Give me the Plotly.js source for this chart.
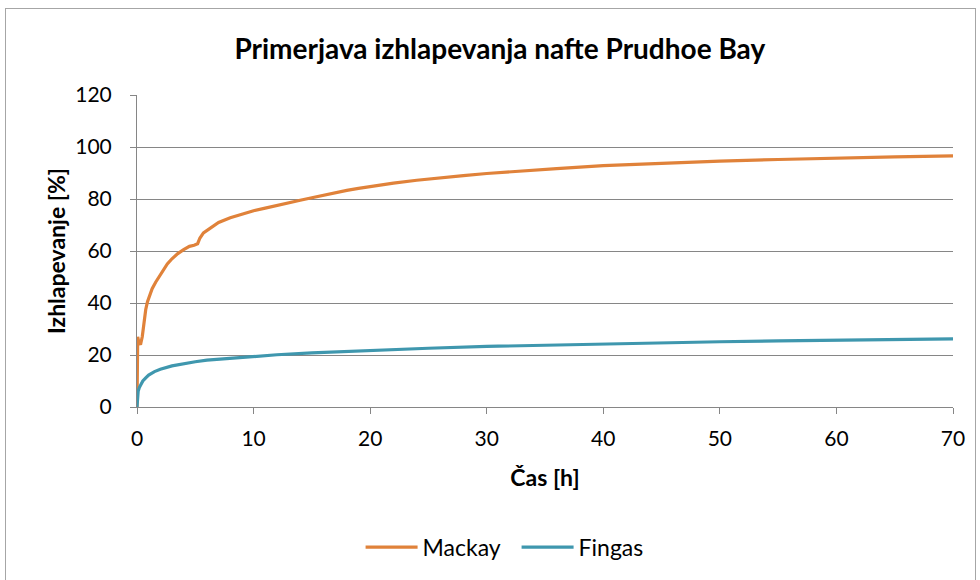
<!DOCTYPE html>
<html>
<head>
<meta charset="utf-8">
<script src="https://cdn.plot.ly/plotly-3.0.1.min.js"></script>
<style>
  html, body { margin: 0; padding: 0; background: #fff; }
  #frame { position: absolute; left: 5px; top: 8px; width: 969px; height: 600px; border: 1px solid #a6a6a6; }
  #chart { position: absolute; left: 0; top: 0; width: 980px; height: 580px; }
</style>
</head>
<body>
<div id="frame"></div>
<div id="chart"></div>
<script>
// Time in hours
const mackayT = [0, 0.03, 0.06, 0.15, 0.3, 0.45, 0.6, 0.75, 0.9, 1.1, 1.3, 1.6, 1.9, 2.2, 2.6, 3.0, 3.5, 4.0, 4.5, 4.9, 5.2, 5.4, 5.7, 6.2, 7, 8, 9, 10, 11, 12, 13, 14, 15, 16, 17, 18, 19, 20, 22, 24, 26, 28, 30, 33, 36, 40, 45, 50, 55, 60, 65, 70];
const mackayV = [0, 15, 27, 25, 24, 27, 33, 37.5, 40.5, 43, 45.5, 48, 50, 52, 55, 57, 59, 60.5, 61.8, 62.2, 62.8, 65, 67, 68.5, 71, 72.8, 74.3, 75.5, 76.5, 77.6, 78.6, 79.5, 80.5, 81.5, 82.4, 83.3, 84.1, 84.8, 86.1, 87.2, 88.2, 89.0, 89.8, 90.8, 91.7, 92.8, 93.8, 94.6, 95.2, 95.8, 96.2, 96.6];
const fingasT = [0, 0.02, 0.05, 0.1, 0.2, 0.35, 0.5, 0.75, 1, 1.5, 2, 3, 4, 5, 6, 8, 10, 12, 15, 20, 25, 30, 35, 40, 45, 50, 55, 60, 65, 70];
const fingasV = [0, 2, 4.5, 6, 7.5, 9, 10, 11.2, 12.3, 13.6, 14.5, 15.8, 16.7, 17.4, 18, 18.8, 19.5, 20.1, 20.8, 21.8, 22.6, 23.3, 23.8, 24.3, 24.7, 25.1, 25.4, 25.7, 26, 26.2];
const seriesNames = ["Mackay", "Fingas"];
const xTicks = [0, 10, 20, 30, 40, 50, 60, 70];
const yTicks = [0, 20, 40, 60, 80, 100, 120];
const titleText = "Primerjava izhlapevanja nafte Prudhoe Bay";
const xTitle = "Čas [h]";
const yTitle = "Izhlapevanje [%]";

const FONT = "Lato, 'Open Sans', sans-serif";
const data = [
  { x: mackayT, y: mackayV, name: seriesNames[0], type: "scatter", mode: "lines",
    line: { color: "#E0823A", width: 3.2 } },
  { x: fingasT, y: fingasV, name: seriesNames[1], type: "scatter", mode: "lines",
    line: { color: "#3F97AE", width: 3.2 } }
];
const layout = {
  width: 980, height: 580,
  margin: { l: 137, r: 27, t: 95, b: 173 },
  paper_bgcolor: "rgba(0,0,0,0)",
  plot_bgcolor: "#ffffff",
  font: { family: FONT, color: "#000", size: 21 },
  title: { text: "<b>" + titleText + "</b>", font: { family: FONT, size: 28, color: "#000" },
           x: 0.51, xanchor: "center", y: 0.915, yanchor: "middle" },
  xaxis: {
    range: [0, 70], tickvals: xTicks, ticktext: xTicks.map(String),
    showgrid: false, zeroline: false,
    showline: true, linecolor: "#868686", linewidth: 1,
    ticks: "outside", ticklen: 6, tickcolor: "#868686",
    ticklabelstandoff: 7,
    tickfont: { family: FONT, size: 21 },
    title: { text: "<b>" + xTitle + "</b>", font: { family: FONT, size: 23 }, standoff: 20 }
  },
  yaxis: {
    range: [0, 120], tickvals: yTicks, ticktext: yTicks.map(String),
    showgrid: true, gridcolor: "#868686", gridwidth: 1, zeroline: false,
    showline: true, linecolor: "#868686", linewidth: 1,
    ticks: "outside", ticklen: 6, tickcolor: "#868686",
    ticklabelstandoff: 14,
    tickfont: { family: FONT, size: 21 },
    title: { text: "<b>" + yTitle + "</b>", font: { family: FONT, size: 23 }, standoff: 3 }
  },
  showlegend: true,
  legend: { orientation: "h", x: 0.274, xanchor: "left", y: -0.449, yanchor: "middle",
            itemwidth: 52, entrywidth: 89, entrywidthmode: "pixels",
            font: { family: FONT, size: 23 }, bgcolor: "rgba(0,0,0,0)" }
};
Plotly.newPlot("chart", data, layout, { displayModeBar: false, staticPlot: true });
</script>
</body>
</html>
